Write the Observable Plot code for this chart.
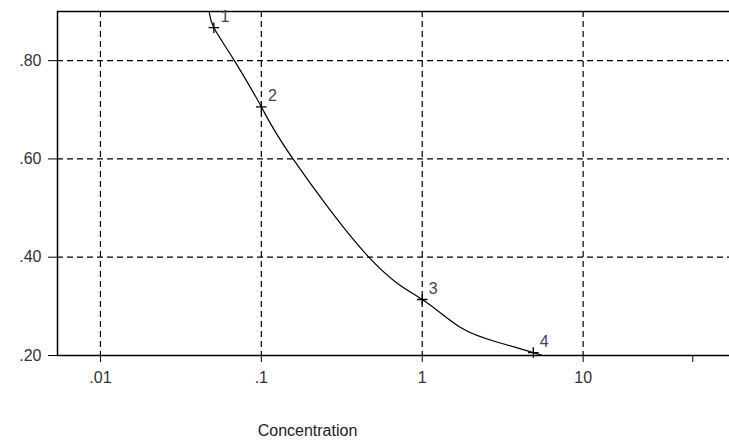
<!DOCTYPE html>
<html>
<head>
<meta charset="utf-8">
<script src="https://cdn.jsdelivr.net/npm/d3@7"></script>
<script src="https://cdn.jsdelivr.net/npm/@observablehq/plot@0.6"></script>
<style>
  html, body { margin: 0; padding: 0; background: #fff; }
  #chart svg { display: block; }
</style>
</head>
<body>
<div id="chart"></div>
<script>
// ---- data ----
const xDomain = [0.00541, 81.2];
const yDomain = [0.2, 0.9];

const xTicks = [0.01, 0.1, 1, 10, 48];
const xTickLabels = [".01", ".1", "1", "10", ""];
const xGrid = [0.01, 0.1, 1, 10];

const yTicks = [0.2, 0.4, 0.6, 0.8];
const yTickLabels = [".20", ".40", ".60", ".80"];
const yGrid = [0.4, 0.6, 0.8];

const curveX = [0.0475, 0.0507, 0.0668, 0.1, 0.155, 0.469, 1, 1.73, 2.94, 4.9, 5.6];
const curveY = [0.898, 0.867, 0.804, 0.706, 0.603, 0.399, 0.314, 0.257, 0.227, 0.206, 0.200];

const pointLabels = ["1", "2", "3", "4"];
const pointX = [0.0507, 0.1, 1, 4.9];
const pointY = [0.867, 0.706, 0.314, 0.206];

const xTitle = "Concentration";

// ---- tables built from arrays ----
const curve = curveX.map((x, i) => ({x, y: curveY[i]}));
const points = pointX.map((x, i) => ({x, y: pointY[i], label: pointLabels[i]}));
const labelFor = (ticks, labels) => (d) => {
  const i = ticks.findIndex((t) => Math.abs(t - d) <= 1e-9 * Math.max(1, Math.abs(t)));
  return i < 0 ? "" : labels[i];
};

const chart = Plot.plot({
  width: 729,
  height: 443,
  marginLeft: 57,
  marginRight: 0,
  marginTop: 11,
  marginBottom: 88,
  style: {fontFamily: "'Liberation Sans', Arial, sans-serif", fontSize: "16px", color: "#000", background: "#fff"},
  x: {type: "log", domain: xDomain},
  y: {domain: yDomain},
  marks: [
    Plot.gridX(xGrid, {stroke: "#000", strokeOpacity: 1, strokeDasharray: "6,4", strokeWidth: 1.2}),
    Plot.gridY(yGrid, {stroke: "#000", strokeOpacity: 1, strokeDasharray: "6,4", strokeWidth: 1.2}),
    Plot.ruleY([yDomain[1]], {stroke: "#000", strokeWidth: 1.5}),
    Plot.ruleY([yDomain[0]], {stroke: "#000", strokeWidth: 1.5}),
    Plot.ruleX([xDomain[0]], {stroke: "#000", strokeWidth: 1.5}),
    Plot.axisX({ticks: xTicks, tickFormat: labelFor(xTicks, xTickLabels), tickSize: 7, tickPadding: 9,
      fontSize: 16, fill: "#333", stroke: "#000", label: null}),
    Plot.axisY({ticks: yTicks, tickFormat: labelFor(yTicks, yTickLabels), tickSize: 9, tickPadding: 7,
      fontSize: 16, fill: "#333", stroke: "#000", label: null}),
    Plot.line(curve, {x: "x", y: "y", stroke: "#000", strokeWidth: 1.2, curve: "natural"}),
    Plot.dot(points, {x: "x", y: "y", symbol: "plus", r: 3.5, stroke: "#000", strokeWidth: 1.3}),
    Plot.text(points, {x: "x", y: "y", text: "label", dx: 11, dy: -11, fontSize: 16, fill: "#4b3b6b", textAnchor: "middle"}),
    Plot.text([xTitle], {frameAnchor: "bottom", dx: -86, dy: 75, lineAnchor: "middle", fontSize: 16, fill: "#222"})
  ]
});

document.getElementById("chart").append(chart);
</script>
</body>
</html>
